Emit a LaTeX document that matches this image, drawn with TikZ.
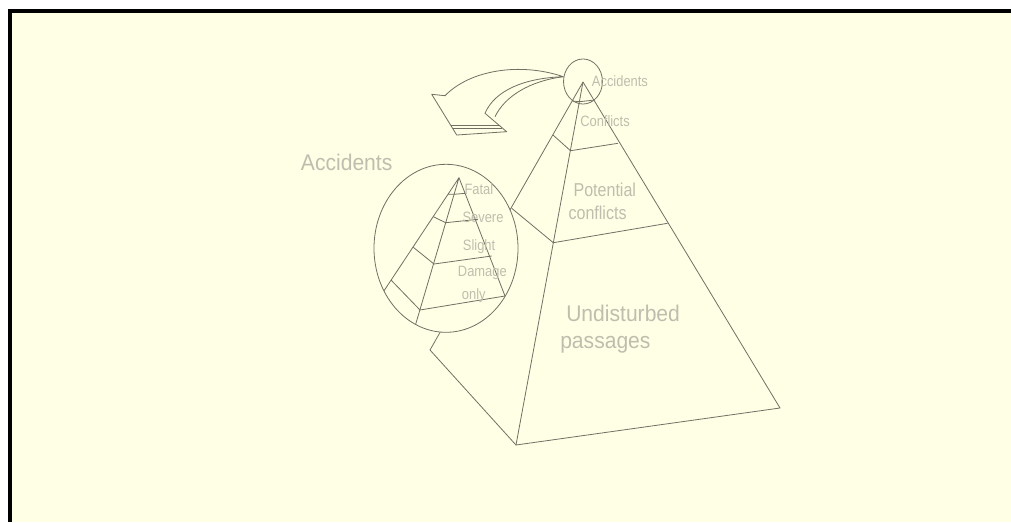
\documentclass[tikz,border=0pt]{standalone}
\usepackage{fontspec}
\setmainfont{Liberation Sans}[FakeStretch=0.86]
\newfontfamily\widefont{Liberation Sans}[FakeStretch=0.93]
\usetikzlibrary{calc}
\definecolor{paper}{HTML}{FFFFE5}
\definecolor{ink}{HTML}{707064}
\definecolor{faded}{HTML}{BEBEAE}
\tikzstyle{edge} = [draw=ink, 
line width=0.6pt, 
line join=round]
\tikzstyle{lens} = [edge, 
fill=paper]
\tikzstyle{tag} = [text=faded, 
inner sep=0pt, 
anchor=base west, 
font=\fontsize{11.25}{13}\selectfont]
\tikzstyle{midtag} = [tag, 
font=\fontsize{14}{16}\selectfont]
\tikzstyle{bigtag} = [tag, 
font=\widefont\fontsize{17}{19}\selectfont]

\begin{document}
\begin{tikzpicture}[x=0.75pt, y=-0.75pt]
            \useasboundingbox (0,0) rectangle (1011,522);
            \fill [white] (0,0) rectangle (1011,522);
            \fill [black] (8,9) rectangle (1011,522);
            \fill [paper] (12.3,13.3) rectangle (1011,522);

            % main pyramid
            \coordinate (apex) at (583,82);
            \coordinate (back) at (430,350);
            \coordinate (front) at (516,445);
            \coordinate (right) at (780,408);
            \draw [edge] (apex) -- (back) -- (front) -- (right) -- cycle;
            \draw [edge] (apex) -- (front);
            \draw [edge] (572.2,101) -- (579.5,101.7) -- (594.5,100);
            \draw [edge] (553,135) -- (570.5,150.7) -- (618,143.3);
            \draw [edge] (511.7,208.3) -- (553.3,242.7) -- (667.5,223.3);
            \draw [edge] (583,81.5) ellipse [x radius=14.6pt, y radius=16.9pt];

            % curved arrow
            \coordinate (src) at (563.3,76.7);
            \draw [edge] (src) .. controls (520,62) and (470,70) .. (445,95.7)
                -- (431.7,94.3) -- (456.7,135) -- (506.7,131.7) -- (485,113.3)
                .. controls (495,90) and (525,78) .. (src);
            \draw [edge] (495,116.7) .. controls (505,96) and (530,81) .. (src);
            \draw [edge] (451,125.7) -- (499.6,125.7);
            \draw [edge] (452.5,128) -- (502.3,128);

            % magnified accidents
            \coordinate (lenscentre) at (446,248.3);
            \coordinate (inapex) at (459,177.7);
            \draw [lens] (lenscentre) ellipse [x radius=54pt, y radius=63pt];
            \begin{scope}
                \clip (lenscentre) ellipse [x radius=54pt, y radius=63pt];
                \draw [edge] (358,330) -- (inapex) -- (411,340);
                \draw [edge] (inapex) -- (505,296);
                \draw [edge] (448,194.3) -- (454,194.3) -- (465.7,193.3);
                \draw [edge] (433.3,216.7) -- (445.7,222.7) -- (478,219.3);
                \draw [edge] (413.3,247.3) -- (434,264) -- (491.7,256);
                \draw [edge] (391,280) -- (420,310) -- (505,296);
            \end{scope}

            \node (acctop) [tag] at (591.7,86.7) {Accidents};
            \node (confl) [tag] at (580,126) {Conflicts};
            \node (pot1) [midtag] at (573.3,196.7) {Potential};
            \node (pot2) [midtag] at (568.3,219.3) {conflicts};
            \node (und1) [bigtag] at (566,321) {Undisturbed};
            \node (und2) [bigtag] at (560,348.3) {passages};
            \node (accbig) [bigtag] at (300.7,170) {Accidents};
            \node (fatal) [tag] at (464.3,194) {Fatal};
            \node (severe) [tag] at (462.3,222.7) {Severe};
            \node (slight) [tag] at (462.7,250) {Slight};
            \node (damage) [tag] at (457.7,276.7) {Damage};
            \node (only) [tag] at (461.7,299.3) {only};
        \end{tikzpicture}
\end{document}
